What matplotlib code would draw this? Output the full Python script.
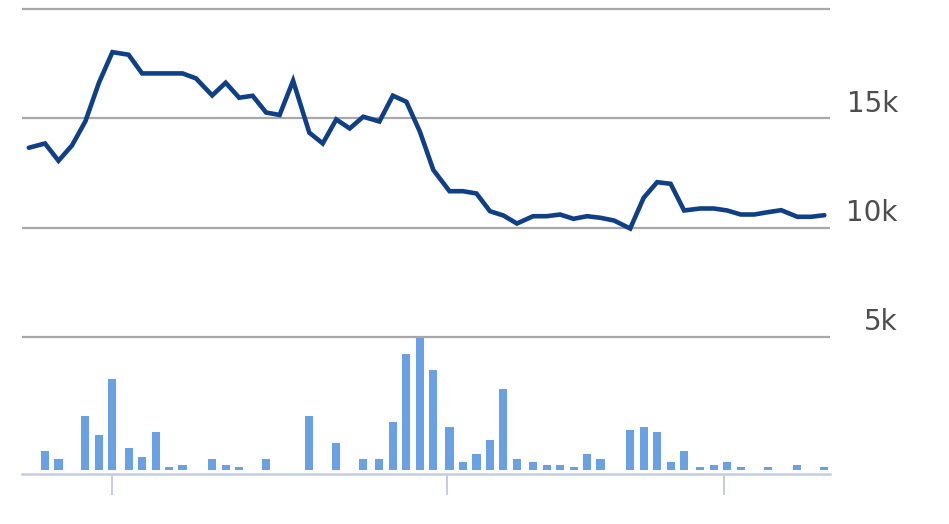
import matplotlib.pyplot as plt
import matplotlib.transforms as mtransforms

# dias (eje x), precio y volumen
days = [-6, 0, 5, 10, 15, 20, 25, 31, 36, 41, 46, 51, 56, 62, 67, 72, 77, 82, 87, 92,
        98, 103, 108, 113, 118, 124, 129, 134, 139, 144, 150, 155, 160, 165, 170, 175,
        181, 186, 191, 196, 201, 206, 211, 217, 222, 227, 232, 237, 243, 248, 253, 258,
        263, 268, 273, 279, 284, 289]
price = [13656, 13853, 13060, 13761, 14876, 16637, 18041, 17920, 17064, 17064, 17064,
         17064, 16835, 16055, 16637, 15950, 16040, 15270, 15160, 16730, 14350, 13853,
         14954, 14541, 15078, 14860, 16045, 15766, 14400, 12640, 11665, 11665, 11560,
         10748, 10550, 10183, 10518, 10518, 10596, 10399, 10518, 10445, 10321, 9954,
         11362, 12078, 12004, 10780, 10872, 10872, 10780, 10596, 10596, 10702, 10794,
         10491, 10491, 10564]
volume = [0, 7, 4, 0, 20, 13, 34, 8, 5, 14, 1, 2, 0, 4, 2, 1, 0, 4, 0, 0, 20, 0, 10, 0,
          4, 4, 18, 43, 49, 37, 16, 3, 6, 11, 30, 4, 3, 2, 2, 1, 6, 4, 0, 15, 16, 14, 3,
          7, 1, 2, 3, 1, 0, 1, 0, 2, 0, 1]
grid_values = [5000, 10000, 15000, 20000]
grid_labels = ['5k', '10k', '15k', '']
tick_days = [24.8, 149.1, 251.8]

fig = plt.figure(figsize=(9.49, 5.24), dpi=100)
ax = fig.add_axes([22 / 949, 50 / 524, 808 / 949, 474 / 524])
ax2 = ax.twinx()

# barras de volumen (escala propia)
ax2.bar(days, volume, width=3.0, color='#6aa0e4', zorder=2)
ax2.set_ylim(-1.49, 174.7)

# linea de precio
ax.plot(days, price, color='#0f3f87', linewidth=3.3, solid_joinstyle='miter',
        solid_capstyle='round', zorder=3)
ax.set_xlim(-8.53, 291.1)
ax.set_ylim(-1300, 20430)

for v in grid_values:
    ax.axhline(v, color='#a8a8a8', linewidth=1.6, zorder=1)

lab_tr = mtransforms.offset_copy(ax.get_yaxis_transform(), fig=fig, x=0, y=5, units='points')
for v, lab in zip(grid_values, grid_labels):
    ax.text(1.084, v, lab, transform=lab_tr, ha='right', va='baseline',
            fontsize=20, color='#4d4d4d')

for a in (ax, ax2):
    for s in ('top', 'right', 'left'):
        a.spines[s].set_visible(False)
    a.set_yticks([])
ax2.spines['bottom'].set_visible(False)
ax.spines['bottom'].set_color('#c3cde3')
ax.spines['bottom'].set_linewidth(1.8)
ax.set_xticks(tick_days)
ax.set_xticklabels([])
ax.tick_params(axis='x', direction='out', length=15, width=1.4, color='#c3cde3')

fig.savefig('out.png', dpi=100)
